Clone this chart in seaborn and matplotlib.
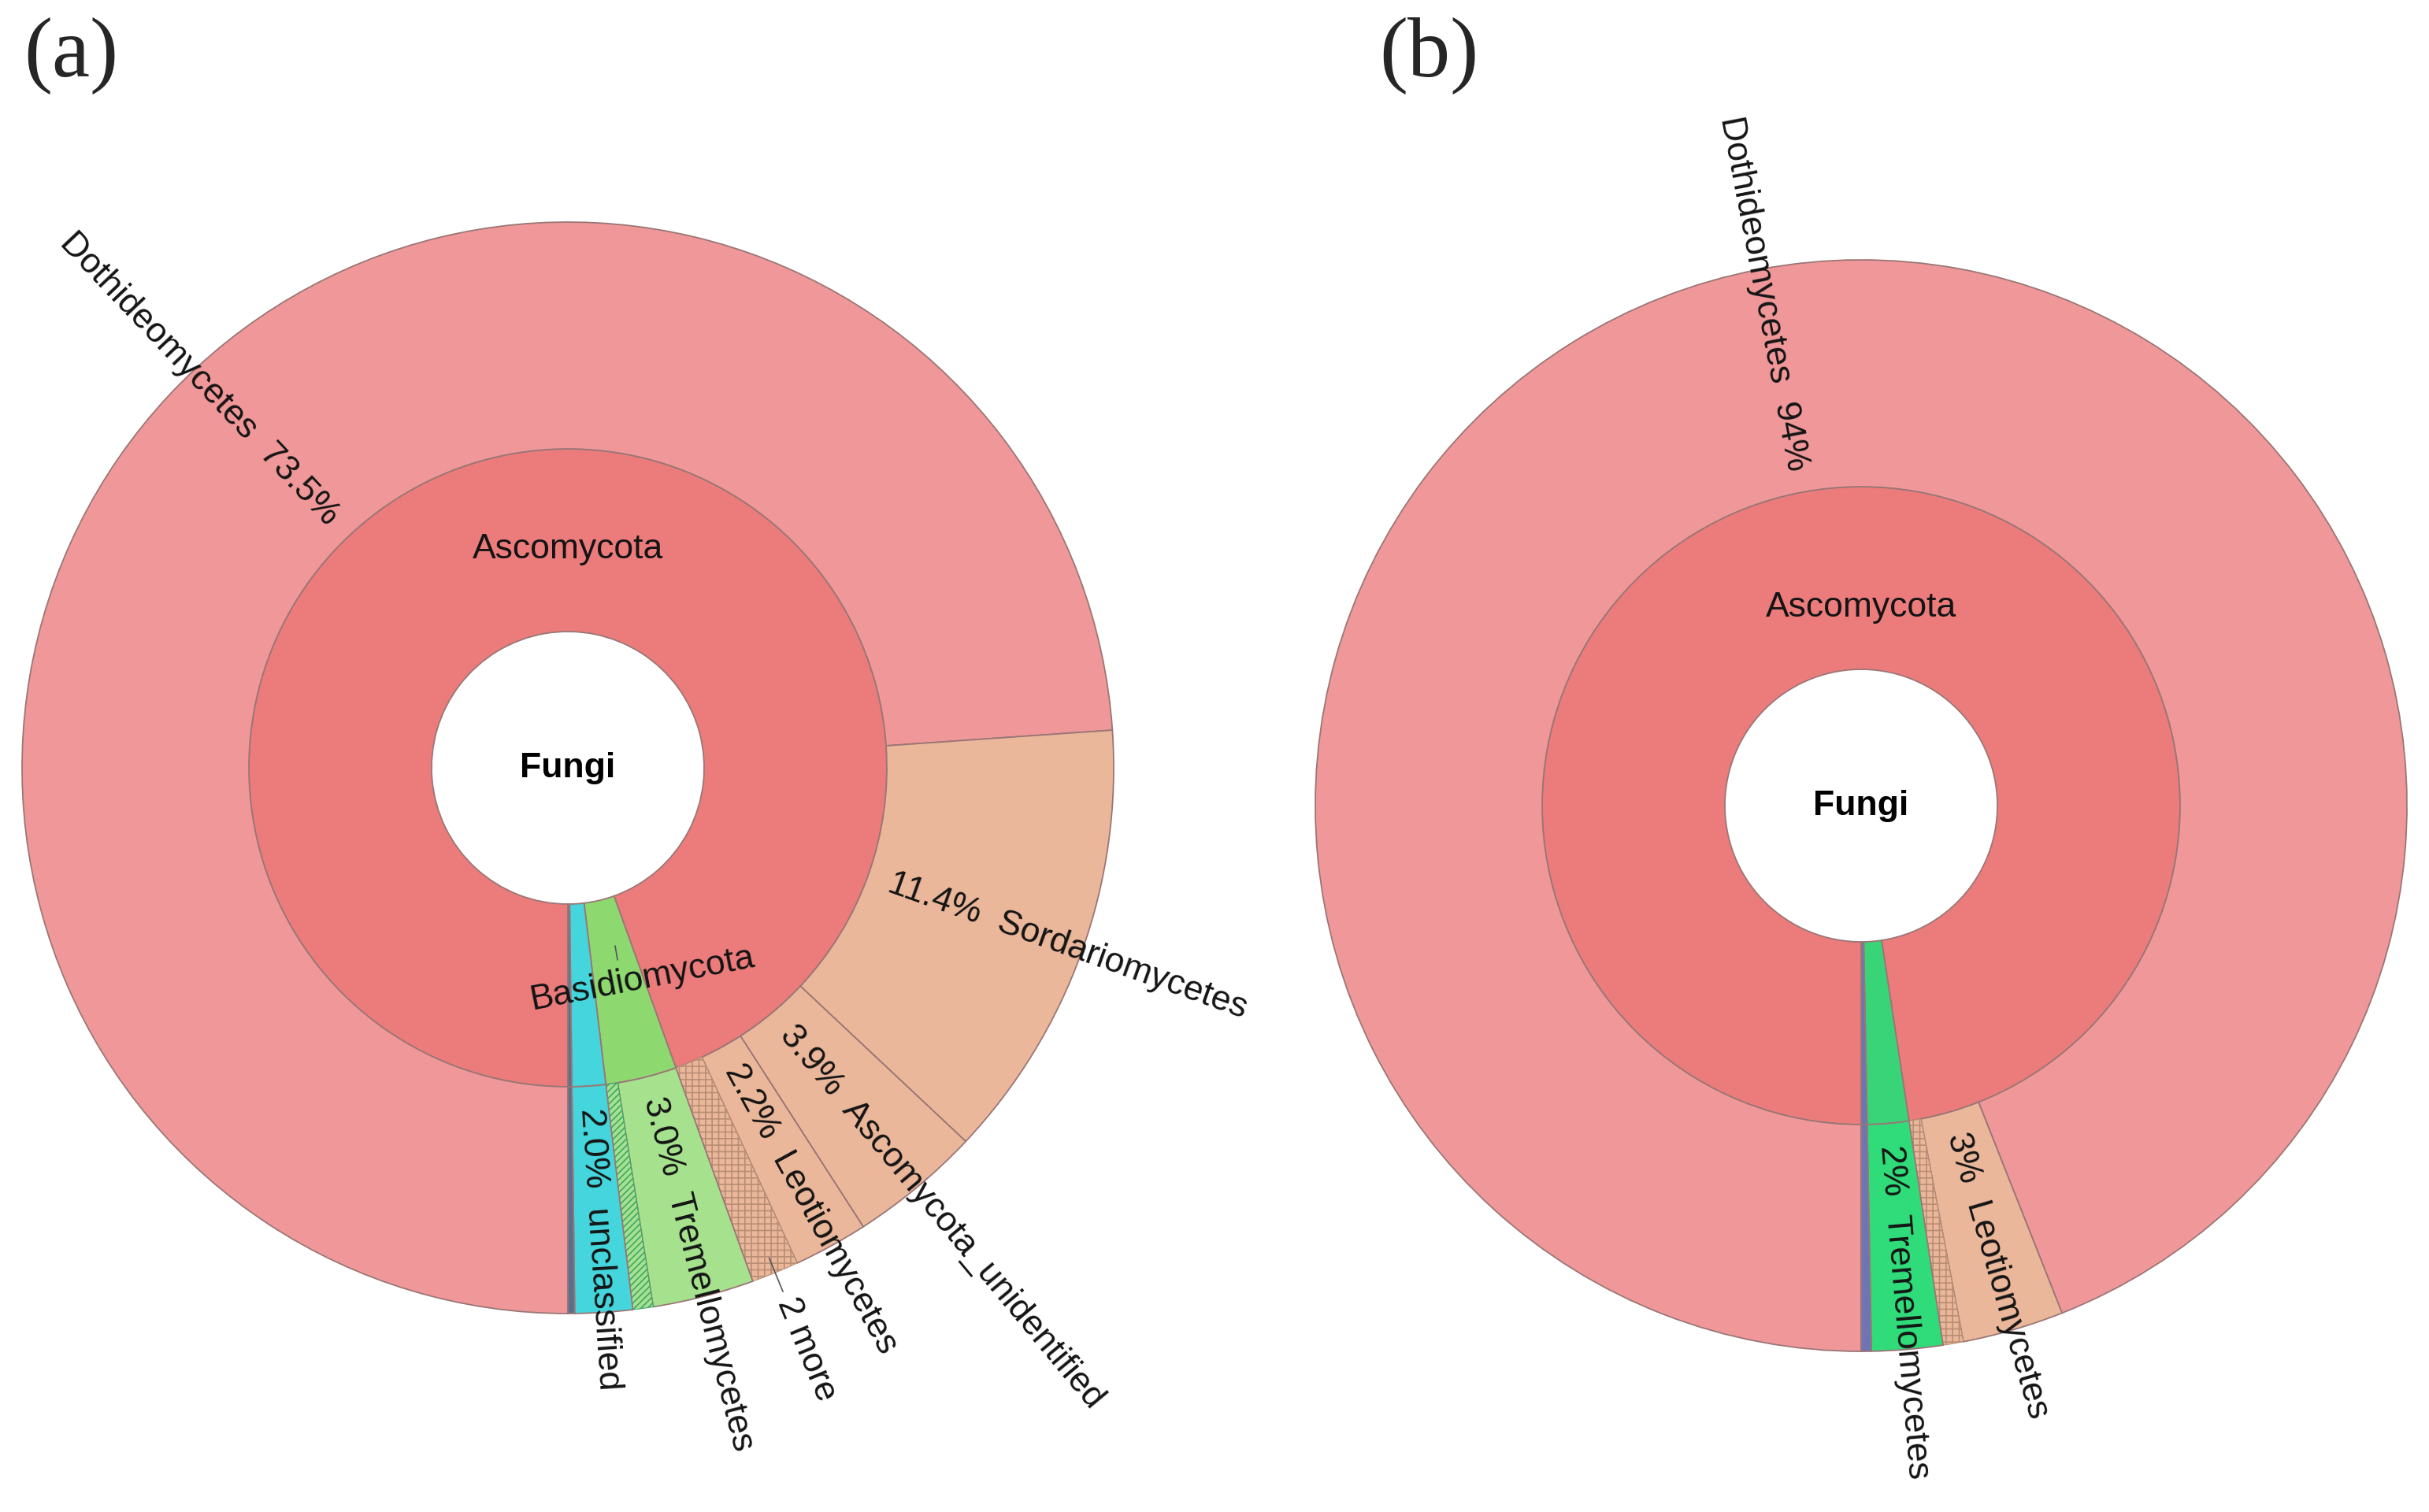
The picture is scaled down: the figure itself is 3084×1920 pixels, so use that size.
import numpy as np
import pandas as pd
import matplotlib
matplotlib.use("Agg")
import matplotlib.pyplot as plt
import seaborn as sns

# ---- data (share of reads, clockwise from 6 o'clock) ----
# (a)
classes_a = ["Dothideomycetes", "Sordariomycetes", "Ascomycota_unidentified", "Leotiomycetes",
             "2 more", "Tremellomycetes", "Basidiomycota_other", "unclassified", "other"]
phylum_a = ["Ascomycota"] * 5 + ["Basidiomycota"] * 2 + ["unclassified", "other"]
share_a = [73.9, 13.1, 3.9, 2.2, 1.4, 3.0, 0.6, 1.7, 0.2]
pct_a = ["73.5%", "11.4%", "3.9%", "2.2%", "", "3.0%", "", "2.0%", ""]

# (b)
classes_b = ["Dothideomycetes", "Leotiomycetes", "Ascomycota_other", "Tremellomycetes", "other"]
phylum_b = ["Ascomycota"] * 3 + ["Basidiomycota", "other"]
share_b = [94.0, 3.0, 0.6, 2.1, 0.3]
pct_b = ["94%", "3%", "", "2%", ""]

# ---- style ----
sns.set_style("white")
plt.rcParams["font.family"] = ["Liberation Sans", "DejaVu Sans"]
plt.rcParams["hatch.linewidth"] = 1.2

EDGE = "#9b7676"
TXT = "#141414"
R_HOLE, R_MID, R_OUT = 173, 405, 693

colors_a = {"Dothideomycetes": "#F09899", "Sordariomycetes": "#EAB79A",
            "Ascomycota_unidentified": "#EAB79A", "Leotiomycetes": "#EAB79A",
            "2 more": "#EAB79A", "Tremellomycetes": "#A6E28E",
            "Basidiomycota_other": "#A6E28E", "unclassified": "#44D6DC", "other": "#5B6E8C"}
phylum_colors_a = {"Ascomycota": "#EC7C7C", "Basidiomycota": "#8ED870",
                   "unclassified": "#44D6DC", "other": "#5B6E8C"}
colors_b = {"Dothideomycetes": "#F09899", "Leotiomycetes": "#EAB79A",
            "Ascomycota_other": "#EAB79A", "Tremellomycetes": "#30DB7A", "other": "#6E74B4"}
phylum_colors_b = {"Ascomycota": "#EC7C7C", "Basidiomycota": "#38D477", "other": "#6E74B4"}
hatch_style = {"2 more": ("++", "#B98E74"), "Ascomycota_other": ("++", "#B98E74"),
               "Basidiomycota_other": ("////", "#3FA66A")}


def draw_krona(ax, cx, cy, classes, phyla, shares, pct, colors, phylum_colors, asco_r,
               basidio=None, nudge=None):
    nudge = nudge or {}
    df = pd.DataFrame({"cls": classes, "phylum": phyla, "share": shares})
    inner = df.groupby("phylum", sort=False)["share"].sum()

    ax.pie(inner.values, radius=R_MID, center=(cx, cy), startangle=270, counterclock=False,
           colors=[phylum_colors[p] for p in inner.index],
           wedgeprops=dict(width=R_MID - R_HOLE, edgecolor=EDGE, linewidth=1.3))
    wedges, _ = ax.pie(df["share"], radius=R_OUT, center=(cx, cy), startangle=270,
                       counterclock=False, colors=[colors[c] for c in classes],
                       wedgeprops=dict(width=R_OUT - R_MID, edgecolor=EDGE, linewidth=1.3))

    for w, name, p in zip(wedges, classes, pct):
        if name in hatch_style:
            h, hc = hatch_style[name]
            w.set_hatch(h)
            w.set_edgecolor(hc)
            w.set_linewidth(0.8)
        ang = ((w.theta1 + w.theta2) / 2 + 180) % 360 - 180 + nudge.get(name, 0)
        a = np.deg2rad(ang)
        if name == "2 more":
            # collapsed small classes: label outside the ring with a short leader
            ax.plot([cx + (R_OUT - 20) * np.cos(a), cx + (R_OUT + 26) * np.cos(a)],
                    [cy + (R_OUT - 20) * np.sin(a), cy + (R_OUT + 26) * np.sin(a)],
                    color="#555555", lw=1.2)
            r = R_OUT + 36
            ax.text(cx + r * np.cos(a), cy + r * np.sin(a), name, rotation=ang,
                    rotation_mode="anchor", ha="left", va="center", fontsize=32, color=TXT)
            continue
        if not p:
            continue
        r = R_MID + 28
        x, y = cx + r * np.cos(a), cy + r * np.sin(a)
        if -90 <= ang <= 90:
            ax.text(x, y, f"{p}  {name}", rotation=ang, rotation_mode="anchor",
                    ha="left", va="center", fontsize=32, color=TXT)
        else:
            ax.text(x, y, f"{name}  {p}", rotation=ang - 180, rotation_mode="anchor",
                    ha="right", va="center", fontsize=32, color=TXT)

    ax.text(cx, cy + asco_r, "Ascomycota", ha="center", va="center", fontsize=32, color=TXT)
    ax.text(cx, cy, "Fungi", ha="center", va="center", fontsize=32, fontweight="bold", color="black")
    if basidio:
        bx, by, rot = basidio
        ax.text(cx + bx, cy + by, "Basidiomycota", ha="center", va="center", rotation=rot,
                fontsize=32, color=TXT)
        ax.plot([cx + 60, cx + 63], [cy - 226, cy - 244], color="#555555", lw=1.2)


fig = plt.figure(figsize=(30.84, 19.2), dpi=100)
ax = fig.add_axes([0, 0, 1, 1])

draw_krona(ax, 721, 1920 - 975, classes_a, phylum_a, share_a, pct_a, colors_a, phylum_colors_a,
           asco_r=277, basidio=(94, -268, 11), nudge={"Dothideomycetes": -3.5})
draw_krona(ax, 2363, 1920 - 1023, classes_b, phylum_b, share_b, pct_b, colors_b, phylum_colors_b,
           asco_r=252)

ax.text(30, 1920 - 22, "(a)", ha="left", va="top", fontsize=78,
        family=["Liberation Serif", "DejaVu Serif"])
ax.text(1751, 1920 - 22, "(b)", ha="left", va="top", fontsize=78,
        family=["Liberation Serif", "DejaVu Serif"])

ax.set_xlim(0, 3084)
ax.set_ylim(0, 1920)
ax.set_aspect("equal")
ax.axis("off")

fig.savefig("out.png", dpi=100, facecolor="white")
